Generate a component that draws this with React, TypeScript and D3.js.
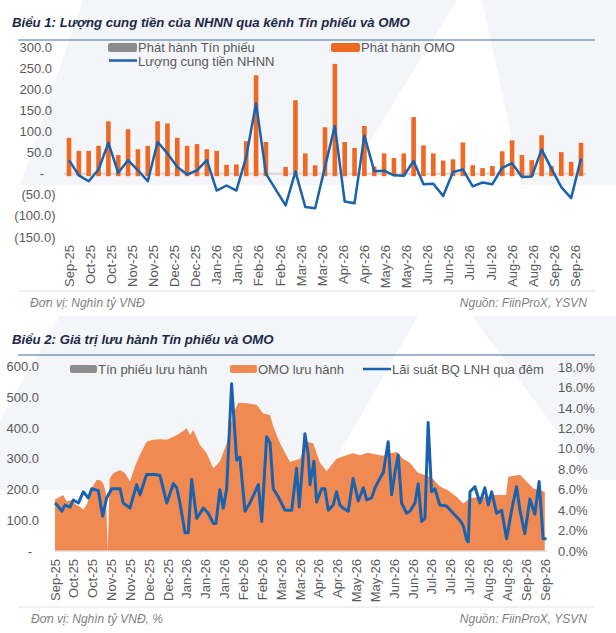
import React from "react";
import * as d3 from "d3";

// ---------- Chart 1 data ----------
const c1Labels = ["Sep-25","Oct-25","Oct-25","Nov-25","Nov-25","Dec-25","Dec-25","Jan-26","Jan-26","Feb-26","Feb-26","Mar-26","Mar-26","Apr-26","Apr-26","May-26","May-26","Jun-26","Jun-26","Jul-26","Jul-26","Aug-26","Aug-26","Sep-26","Sep-26"];
const omoIssue = [85,54,54,66,124,44,105,58,66,124,119,85,66,70,58,54,21,22,77,233,75,0,16,174,48,20,110,260,75,61,113,17,48,37,48,134,67,48,31,34,74,20,13,18,53,79,44,32,91,18,51,28,73];
const moneySupply = [32,-4,-18,10,73,2,32,8,-18,75,48,16,-2,8,32,-40,-28,-40,40,167,0,-38,-75,5,-79,-82,16,113,-66,-70,90,6,7,-4,-5,30,-25,-24,-53,4,10,-30,-21,-25,14,25,-8,-7,57,12,-32,-58,36];
const c1Ticks = [300,250,200,150,100,50,0,-50,-100,-150];

// ---------- Chart 2 data ----------
const c2Labels = ["Sep-25","Oct-25","Oct-25","Nov-25","Nov-25","Dec-25","Dec-25","Jan-26","Jan-26","Jan-26","Feb-26","Feb-26","Mar-26","Mar-26","Apr-26","Apr-26","May-26","May-26","Jun-26","Jun-26","Jul-26","Jul-26","Jul-26","Aug-26","Aug-26","Sep-26","Sep-26"];
const omoOutDays = [0,2.7,4.4,6.2,8,11.5,13.3,15,17.1,19.5,22.1,23.9,25.6,27,28,29,30.9,34.5,37.1,39.8,42.4,45.1,48.6,52.1,55.7,59.3,62.8,66.3,69.9,71.6,73.4,76.9,80.5,84,87.5,91.1,94.6,97.2,101.7,107,110.5,114.1,115.8,119.4,124.7,130,133.5,137,140.6,144.1,149.4,153.8,158.1,161.8,166,169.8,174,177.7,181.4,184.6,188.3,192.6,197.3,200.5,204.2,208,213.1,216.6,220.2,225.5,229.2,232.4,239.3,240.5,246.7,250.2,253.7,259.9];
const omoOutValues = [168,177,182,161,165,150,144,134,155,204,231,231,220,190,0,235,253,264,254,226,275,313,356,362,364,362,372,383,400,378,394,345,318,269,291,351,448,483,481,476,448,443,405,351,290,300,356,351,287,260,300,310,318,312,320,315,310,318,322,300,287,255,245,235,210,199,177,155,172,177,177,182,182,242,248,226,204,193];
const rateDays = [0,1.6,3.6,5.3,8,9.7,12.4,15,17.7,19.5,23,25.3,27.4,30.1,34.5,36.2,39.8,43.3,45.1,48.6,53,55.7,59.3,62.8,64.6,66.3,69,70.7,72.5,75.2,78.7,81.3,84,85.4,87.5,89.3,91.1,93.7,96.4,98.1,100.8,103.4,107.9,109.7,112.3,114.1,115.8,118.5,122,125.6,128.2,129.6,132.6,134.4,135.3,137.4,138.8,141.5,143.2,145,147.6,149.4,151.2,152.9,155.6,158.2,160.9,163.6,165.4,168,169.8,172.4,174.2,176.8,178.6,180.4,182.1,183.9,186.6,188.3,191,192.7,194.5,196.3,198,199.8,201.6,204.2,207.8,211.3,214.9,216.6,218.4,219.3,220.2,222.8,225.5,228.1,229.9,231.7,234.3,237,239.6,242.3,244.9,246.7,249.3,252,254.6,256.9,259,260.8];
const rateValues = [4.7,4.4,3.9,4.5,4.3,5.0,4.7,5.8,5.2,6.1,5.9,3.4,5.2,6.1,6.1,4.7,4.2,6.5,5.5,7.5,7.5,7.4,4.7,6.6,6.2,4.7,1.8,1.8,7.0,3.2,4.2,3.7,2.7,2.7,6.0,4.2,6.1,16.4,8.9,9.2,3.9,4.7,6.5,2.9,11.2,10.6,6.1,5.3,4.0,4.0,8.1,4.3,11.5,9.4,6.5,8.8,4.8,6.1,6.1,4.0,4.5,5.8,4.5,4.2,3.9,7.1,4.9,6.2,5.0,5.2,6.2,7.1,7.7,10.7,5.5,7.7,9.4,4.7,3.7,3.9,4.7,6.6,2.9,3.2,12.6,5.8,6.1,4.5,4.4,3.7,3.0,2.5,1.1,0.9,5.8,6.3,4.7,6.2,4.5,5.8,3.7,4.0,1.2,4.0,6.3,4.0,1.7,5.1,3.6,6.8,1.2,1.2];
const c2LeftTicks = [600,500,400,300,200,100,0];
const c2RightTicks = [18,16,14,12,10,8,6,4,2,0];

const ORANGE = "#ee6a24";
const ORANGE2 = "#f08a52";
const BLUE = "#1a62ad";
const GRAY = "#8c8c8c";
const TXT = "#595959";
const WM = "#f4f5f8";
const FONT = "'Liberation Sans', Arial, sans-serif";

function fmt1(v: number) {
  if (v === 0) return "-";
  const s = Math.abs(v).toFixed(1);
  return v < 0 ? `(${s})` : s;
}

export default function App() {
  const x1 = d3.scaleLinear().domain([0, 364]).range([69, 581]);
  const y1 = d3.scaleLinear().domain([-150, 300]).range([237, 47]);
  const barDay = (i: number) => i * 7;
  const line1 = d3.line<number>().x((_, i) => x1(barDay(i))).y((d) => y1(d));

  const x2 = d3.scaleLinear().domain([0, 260]).range([55, 545]);
  const yL = d3.scaleLinear().domain([0, 600]).range([551, 366.7]);
  const yR = d3.scaleLinear().domain([0, 18]).range([551, 367.3]);
  const area2 = d3
    .area<number>()
    .x((_, i) => x2(omoOutDays[i]))
    .y0(yL(0))
    .y1((d) => yL(d));
  const line2 = d3
    .line<number>()
    .x((_, i) => x2(rateDays[i]))
    .y((d) => yR(d));

  return (
    <svg
      width={616}
      height={633}
      style={{ position: "absolute", left: 0, top: 0, fontFamily: FONT }}
    >
      <rect x={0} y={0} width={616} height={633} fill="#ffffff" />
      {/* faint watermark */}
      <path d="M83,0 L457,0 L343,185 L20,185 Z" fill={WM} />
      <path d="M482,0 L616,0 L616,185 L522,185 Z" fill={WM} />
      <path d="M60,316 L418,316 L318,490 L0,490 L0,420 Z" fill={WM} />
      <path d="M472,316 L616,316 L616,480 L593,480 Z" fill={WM} />

      {/* ---------------- Chart 1 ---------------- */}
      <text x={12} y={27} fontSize={13.2} fontWeight="bold" fontStyle="italic" fill="#1c2847">
        Biểu 1: Lượng cung tiền của NHNN qua kênh Tín phiếu và OMO
      </text>
      <line x1={18} x2={595} y1={40} y2={40} stroke="#3f6fa0" strokeWidth={1} />

      {c1Ticks.map((t) => (
        <text
          key={t}
          x={t === 0 ? 42 : t < 0 ? 55.5 : 52}
          y={y1(t)}
          dy="0.35em"
          fontSize={13}
          fill={TXT}
          textAnchor={t === 0 ? "middle" : "end"}
        >
          {fmt1(t)}
        </text>
      ))}

      <line x1={64} x2={586} y1={y1(0)} y2={y1(0)} stroke="#e3d9d6" strokeWidth={2.5} />
      {omoIssue.map((v, i) =>
        v > 0 ? (
          <rect
            key={i}
            x={x1(barDay(i)) - 2.3}
            y={y1(v)}
            width={4.6}
            height={y1(0) - y1(v) + 2.5}
            fill={ORANGE}
          />
        ) : null
      )}
      <path d={line1(moneySupply) || ""} fill="none" stroke={BLUE} strokeWidth={2.5} strokeLinejoin="round" />

      {c1Labels.map((l, j) => (
        <text
          key={j}
          transform={`translate(${x1(j * 15)},245) rotate(-90)`}
          dy="0.35em"
          textAnchor="end"
          fontSize={13}
          fill={TXT}
        >
          {l}
        </text>
      ))}

      <rect x={108} y={43} width={29} height={9} rx={2} fill={GRAY} />
      <text x={138} y={47.5} dy="0.35em" fontSize={13} fill={TXT}>Phát hành Tín phiếu</text>
      <rect x={331} y={43} width={29} height={9} rx={2} fill={ORANGE} />
      <text x={361} y={47.5} dy="0.35em" fontSize={13} fill={TXT}>Phát hành OMO</text>
      <line x1={109} x2={137} y1={60.5} y2={60.5} stroke={BLUE} strokeWidth={2.5} />
      <text x={138} y={61} dy="0.35em" fontSize={13} fill={TXT}>Lượng cung tiền NHNN</text>

      <line x1={18} x2={595} y1={291} y2={291} stroke="#e2e2e2" strokeWidth={1} />
      <text x={30} y={303} dy="0.35em" fontSize={12} fontStyle="italic" fill="#7f7f7f">Đơn vị: Nghìn tỷ VNĐ</text>
      <text x={587} y={303} dy="0.35em" fontSize={12} fontStyle="italic" fill="#7f7f7f" textAnchor="end">Nguồn: FiinProX, YSVN</text>

      {/* ---------------- Chart 2 ---------------- */}
      <text x={12} y={343.5} fontSize={13.2} fontWeight="bold" fontStyle="italic" fill="#1c2847">
        Biểu 2: Giá trị lưu hành Tín phiếu và OMO
      </text>
      <line x1={18} x2={595} y1={355} y2={355} stroke="#3f6fa0" strokeWidth={1} />

      {c2LeftTicks.map((t) => (
        <text
          key={t}
          x={t === 0 ? 30 : 39}
          y={yL(t)}
          dy="0.35em"
          fontSize={13}
          fill={TXT}
          textAnchor={t === 0 ? "middle" : "end"}
        >
          {fmt1(t)}
        </text>
      ))}
      {c2RightTicks.map((t) => (
        <text key={t} x={558} y={yR(t)} dy="0.35em" fontSize={13} fill={TXT}>
          {t.toFixed(1)}%
        </text>
      ))}

      <path d={area2(omoOutValues) || ""} fill={ORANGE2} />
      <line x1={55} x2={547} y1={yL(0)} y2={yL(0)} stroke="#d9d9d9" strokeWidth={1.5} />
      <path d={line2(rateValues) || ""} fill="none" stroke={BLUE} strokeWidth={3} strokeLinejoin="round" />

      {c2Labels.map((l, j) => (
        <text
          key={j}
          transform={`translate(${x2(j * 10)},559) rotate(-90)`}
          dy="0.35em"
          textAnchor="end"
          fontSize={13}
          fill={TXT}
        >
          {l}
        </text>
      ))}

      <rect x={70} y={365} width={27} height={8} rx={2} fill={GRAY} />
      <text x={98} y={369} dy="0.35em" fontSize={13} fill={TXT}>Tín phiếu lưu hành</text>
      <rect x={230} y={365} width={27} height={8} rx={2} fill={ORANGE2} />
      <text x={258} y={369} dy="0.35em" fontSize={13} fill={TXT}>OMO lưu hành</text>
      <line x1={363} x2={391} y1={369} y2={369} stroke={BLUE} strokeWidth={2.5} />
      <text x={392} y={369} dy="0.35em" fontSize={13} fill={TXT}>Lãi suất BQ LNH qua đêm</text>

      <line x1={18} x2={595} y1={607} y2={607} stroke="#e2e2e2" strokeWidth={1} />
      <text x={31} y={619} dy="0.35em" fontSize={12} fontStyle="italic" fill="#7f7f7f">Đơn vị: Nghìn tỷ VNĐ, %</text>
      <text x={587} y={619} dy="0.35em" fontSize={12} fontStyle="italic" fill="#7f7f7f" textAnchor="end">Nguồn: FiinProX, YSVN</text>
    </svg>
  );
}
